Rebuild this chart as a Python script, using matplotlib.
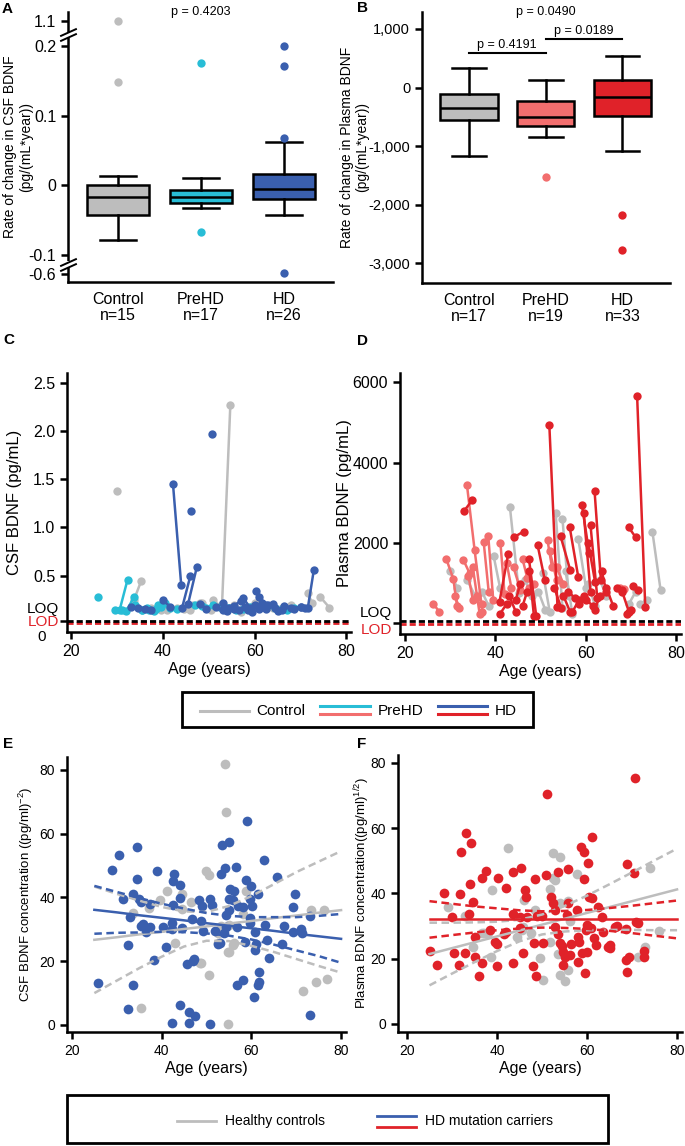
import matplotlib
matplotlib.use('Agg')
import matplotlib.pyplot as plt
import numpy as np
from matplotlib.patches import Rectangle
import matplotlib.transforms as mtransforms

plt.rcParams['font.family'] = ['Liberation Sans', 'DejaVu Sans']
plt.rcParams['axes.unicode_minus'] = False
plt.rcParams['axes.linewidth'] = 1.8

W, H = 685, 1146

GRAY = '#bdbdbd'
CYAN = '#28bdd6'
BLUE = '#3a5fae'
SALMON = '#f26e6e'
RED = '#e02229'

# ---- panel A / B : rate of change boxes ----
groups = ['Control', 'PreHD', 'HD']

csf_n = [15, 17, 26]
csf_q1 = [-0.043, -0.026, -0.019]
csf_med = [-0.017, -0.017, -0.006]
csf_q3 = [0.0, -0.007, 0.016]
csf_whislo = [-0.078, -0.033, -0.043]
csf_whishi = [0.013, 0.011, 0.062]
csf_fliers = [[0.149, 1.1], [0.175, -0.067], [0.068, 0.171, 0.2, -0.578]]
csf_ticks = [-0.6, -0.1, 0, 0.1, 0.2, 1.1]
csf_ticklabels = ['-0.6', '-0.1', '0', '0.1', '0.2', '1.1']
csf_breaks = [0.6, -0.35]

plasma_n = [17, 19, 33]
plasma_q1 = [-558, -650, -479]
plasma_med = [-342, -507, -154]
plasma_q3 = [-114, -234, 131]
plasma_whislo = [-1168, -843, -1083]
plasma_whishi = [336, 125, 541]
plasma_fliers = [[], [-1527], [-2177, -2769]]
plasma_ticks = [-3000, -2000, -1000, 0, 1000]
plasma_brackets = [(1, 2, 590, 'p = 0.4191'), (2, 3, 830, 'p = 0.0189')]

# ---- panel C : CSF BDNF per subject (ages, values) ----
csf_control = [
    ([29.9], [1.38]), ([33.7, 35.3], [0.25, 0.45]), ([52.9, 54.7], [0.21, 2.27]),
    ([71.6, 72.5], [0.32, 0.22]), ([74.3, 76.3], [0.28, 0.17]), ([41.0, 43.0], [0.14, 0.17]),
    ([44.5, 46.5], [0.16, 0.20]), ([48.5, 50.5], [0.22, 0.15]), ([51.0, 52.5], [0.25, 0.18]),
    ([55.5, 57.0], [0.20, 0.12]), ([58.5, 60.0], [0.18, 0.22]), ([62.0, 64.0], [0.20, 0.17]),
    ([66.0, 68.0], [0.17, 0.20]), ([37.5, 39.5], [0.17, 0.15]), ([46.0, 48.0], [0.15, 0.22]),
]
csf_prehd = [
    ([25.8], [0.28]), ([30.6, 32.3], [0.15, 0.46]), ([32.0, 33.7], [0.13, 0.28]),
    ([29.5, 31.0], [0.14, 0.15]), ([34.0, 35.5], [0.20, 0.15]), ([36.5, 38.5], [0.17, 0.16]),
    ([39.0, 40.5], [0.20, 0.22]), ([41.5, 43.0], [0.17, 0.16]), ([38.0, 39.5], [0.13, 0.18]),
    ([47.0, 48.5], [0.20, 0.19]), ([49.5, 51.0], [0.17, 0.20]), ([52.5, 54.0], [0.18, 0.17]),
    ([54.5, 56.0], [0.17, 0.15]), ([57.5, 59.0], [0.16, 0.18]), ([64.5, 66.0], [0.17, 0.16]),
    ([67.0, 68.5], [0.15, 0.17]), ([35.5, 37.0], [0.14, 0.15]),
]
csf_hd = [
    ([42.2, 44.0], [1.45, 0.40]), ([46.1], [1.17]), ([50.7], [1.97]),
    ([44.2, 46.0], [0.17, 0.50]), ([45.5, 47.4], [0.21, 0.59]), ([71.6, 72.9], [0.17, 0.56]),
    ([60.3, 61.5], [0.34, 0.22]), ([33.0, 34.5], [0.18, 0.17]), ([40.0, 41.5], [0.25, 0.18]),
    ([48.0, 49.5], [0.21, 0.16]), ([51.5, 53.0], [0.18, 0.15]), ([54.0, 55.5], [0.13, 0.16]),
    ([55.5, 57.0], [0.19, 0.24]), ([57.5, 59.0], [0.27, 0.17]), ([58.5, 60.0], [0.15, 0.20]),
    ([61.0, 62.5], [0.28, 0.20]), ([62.5, 64.0], [0.16, 0.21]), ([64.5, 66.0], [0.17, 0.15]),
    ([66.5, 68.0], [0.19, 0.17]), ([68.5, 70.0], [0.16, 0.18]), ([70.0, 71.0], [0.18, 0.17]),
    ([56.5, 58.0], [0.14, 0.18]), ([59.5, 61.0], [0.12, 0.16]), ([63.0, 65.0], [0.20, 0.13]),
    ([36.0, 37.5], [0.16, 0.15]), ([53.0, 54.5], [0.22, 0.17]),
]
csf_loq, csf_lod = 0.155, 0.03

# ---- panel D : plasma BDNF per subject ----
plasma_control = [
    ([30.0, 31.5], [1300, 900]), ([33.7, 35.5], [1100, 700]), ([37.0, 38.5], [800, 450]),
    ([39.6, 41.0], [1680, 900]), ([43.2, 45.2], [2890, 760]), ([46.5, 48.0], [1100, 700]),
    ([49.5, 51.0], [800, 350]), ([50.5, 52.0], [1250, 300]), ([53.3, 54.8], [2750, 400]),
    ([54.8, 56.2], [2610, 700]), ([55.5, 57.0], [1300, 250]), ([58.3, 60.0], [2110, 900]),
    ([60.5, 62.0], [1000, 450]), ([63.0, 64.5], [1100, 700]), ([69.5, 71.0], [500, 800]),
    ([72.0, 73.5], [500, 600]), ([74.7, 76.5], [2270, 830]),
]
plasma_prehd = [
    ([26.2, 27.6], [505, 300]), ([29.1, 30.7, 31.5], [1620, 1110, 450]), ([32.9, 34.3], [1590, 1250]),
    ([33.7, 35.4, 37.1], [3440, 1820, 306]), ([34.0, 35.0], [1200, 600]), ([35.0, 36.5], [1400, 250]),
    ([37.4, 38.5], [2020, 800]), ([38.4, 39.5], [2190, 600]), ([41.1, 42.0], [2000, 750]),
    ([44.0, 45.5], [1400, 850]), ([46.0, 47.0], [1600, 1150]), ([51.5, 52.5], [2070, 1400]),
    ([52.0, 53.5], [1800, 1100]), ([36.0, 37.0], [700, 500]), ([47.5, 48.5], [900, 1000]),
    ([53.5, 55.0], [1400, 1000]), ([67.5, 68.5], [880, 860]), ([31.0, 32.0], [700, 400]),
    ([42.5, 43.5], [1500, 900]),
]
plasma_hd = [
    ([33.0, 34.8], [2790, 3060]), ([40.9, 42.8], [555, 1730]), ([41.0, 42.5], [250, 500]),
    ([43.0, 44.5], [700, 300]), ([44.1, 46.2], [2150, 2290]), ([44.5, 45.5], [600, 1000]),
    ([46.0, 47.0], [450, 800]), ([47.4, 49.0], [1615, 200]), ([47.5, 48.5], [1300, 200]),
    ([49.3, 50.9], [1960, 1090]), ([51.9, 53.7], [4935, 430]), ([53.0, 54.5], [900, 400]),
    ([54.4, 56.5], [2170, 1340]), ([56.4, 58.3], [2400, 1160]), ([55.0, 56.5], [700, 300]),
    ([57.0, 58.5], [300, 600]), ([59.1, 60.7], [2960, 1755]), ([59.5, 61.0], [2750, 800]),
    ([60.5, 62.0], [2010, 1050]), ([61.9, 63.3], [3290, 1090]), ([61.0, 62.5], [2450, 650]),
    ([60.0, 61.5], [600, 450]), ([62.0, 63.0], [350, 700]), ([63.5, 64.5], [1300, 800]),
    ([64.5, 66.0], [900, 450]), ([58.5, 59.5], [500, 700]), ([66.9, 68.0], [890, 850]),
    ([69.4, 71.0], [2400, 2145]), ([71.3, 73.1], [5655, 430]), ([70.5, 71.5], [950, 850]),
    ([68.0, 69.5], [800, 300]), ([69.0, 70.0], [250, 350]), ([56.0, 57.5], [800, 650]),
]
plasma_loq, plasma_lod = 270, 30

# ---- panel E / F : transformed concentration vs age ----
e_control_pts = np.array([
    (54.2, 81.7), (54.4, 66.8), (49.9, 48.2), (50.5, 47.1), (41.3, 41.9), (39.6, 39.3),
    (44.6, 41.1), (46.5, 38.7), (44.6, 36.3), (33.6, 35.1), (37.2, 36.6), (43.0, 25.7),
    (53.3, 30.9), (55.1, 31.4), (52.5, 28.8), (54.7, 23.0), (55.9, 25.1), (56.2, 25.7),
    (58.1, 34.9), (58.8, 41.9), (76.2, 36.1), (48.5, 19.4), (48.8, 19.4), (50.5, 15.7),
    (52.5, 25.6), (55.0, 23.0), (74.4, 13.6), (71.6, 10.5), (35.3, 5.2), (73.3, 36.1),
    (54.8, 0.3), (76.8, 14.5)]).T
e_hd_pts = np.array([
    (29.0, 48.7), (30.5, 53.2), (34.6, 55.7), (34.4, 45.9), (31.3, 39.6), (33.6, 41.1),
    (35.0, 39.6), (35.5, 38.7), (37.3, 38.0), (32.9, 33.7), (35.9, 31.6), (35.5, 31.1),
    (37.3, 30.7), (40.2, 30.7), (42.2, 32.1), (42.4, 30.1), (42.5, 37.7), (44.0, 39.8),
    (44.2, 44.0), (42.5, 45.0), (42.7, 47.3), (39.0, 48.2), (32.4, 25.1), (40.9, 24.6),
    (38.2, 20.4), (46.7, 33.2), (48.4, 39.1), (49.0, 37.4), (50.8, 39.5), (51.3, 37.5),
    (48.8, 32.5), (49.2, 29.6), (51.8, 29.6), (52.9, 25.7), (52.5, 25.5), (53.3, 47.3),
    (53.5, 56.5), (55.1, 57.4), (54.2, 49.1), (56.6, 49.5), (55.3, 42.6), (56.2, 41.9),
    (55.0, 39.5), (55.9, 39.3), (55.0, 36.1), (54.4, 34.6), (57.0, 37.2), (58.1, 36.9),
    (59.0, 63.9), (58.7, 45.3), (59.9, 43.7), (59.6, 39.5), (60.2, 37.2), (61.4, 41.1),
    (62.8, 51.8), (59.7, 33.5), (59.7, 32.1), (56.8, 30.7), (60.9, 29.0), (63.0, 31.4),
    (58.5, 25.9), (61.0, 25.5), (63.4, 26.7), (63.9, 20.9), (65.7, 46.4), (67.2, 31.1),
    (69.2, 37.0), (69.8, 41.1), (66.8, 25.5), (69.2, 29.0), (71.0, 30.1), (71.4, 28.8),
    (73.0, 34.2), (60.9, 23.6), (25.9, 13.1), (33.6, 12.6), (45.6, 19.1), (47.0, 20.1),
    (47.3, 20.6), (56.9, 12.6), (58.2, 14.1), (61.8, 16.7), (61.8, 13.6), (61.4, 12.6),
    (60.5, 8.9), (32.4, 4.9), (44.0, 6.3), (46.0, 4.0), (47.5, 2.9), (73.0, 3.1),
    (42.2, 0.5), (46.1, 0.7), (50.8, 0.3), (54.4, 30.8), (53.8, 28.9), (36.5, 29.0),
    (44.5, 30.5)]).T

f_control_pts = np.array([
    (42.5, 53.8), (52.5, 52.3), (54.1, 51.0), (52.9, 44.1), (52.5, 44.6), (51.8, 41.2),
    (57.7, 45.8), (74.0, 47.7), (38.8, 41.0), (29.0, 35.9), (32.9, 33.1), (48.4, 34.9),
    (54.0, 37.0), (55.8, 37.5), (45.8, 29.8), (44.4, 26.7), (38.1, 27.8), (36.6, 27.8),
    (34.7, 23.7), (45.5, 28.8), (51.8, 25.2), (49.6, 20.1), (53.6, 21.4), (71.3, 20.6),
    (72.9, 23.7), (76.1, 28.6), (56.2, 31.5), (46.1, 38.0), (47.6, 27.8), (50.3, 13.5),
    (53.9, 15.0), (55.1, 13.0), (55.8, 16.5), (38.7, 20.6), (37.0, 27.8)]).T
f_hd_pts = np.array([
    (70.7, 75.2), (51.2, 70.3), (33.1, 58.6), (34.2, 55.3), (32.1, 52.8), (61.1, 57.4),
    (58.6, 54.3), (59.3, 52.6), (60.3, 49.4), (68.8, 49.0), (70.5, 46.3), (59.4, 44.3),
    (55.7, 47.4), (53.6, 46.5), (50.9, 45.6), (45.3, 47.9), (43.5, 46.4), (40.3, 44.6),
    (37.6, 46.7), (36.6, 44.6), (34.0, 42.8), (31.8, 39.8), (28.3, 40.0), (34.7, 37.2),
    (46.2, 41.0), (46.4, 39.0), (42.0, 41.5), (48.4, 44.3), (51.9, 39.0), (52.5, 37.0),
    (55.8, 37.0), (55.6, 33.4), (52.9, 34.9), (57.7, 34.9), (61.0, 38.5), (60.5, 39.0),
    (62.5, 35.9), (63.3, 32.9), (60.1, 30.3), (60.8, 29.3), (59.8, 28.8), (70.9, 31.3),
    (71.3, 30.8), (66.6, 30.0), (66.2, 29.6), (68.7, 29.0), (63.5, 28.0), (45.0, 32.7),
    (43.5, 33.6), (46.7, 32.6), (48.8, 33.1), (49.9, 33.1), (52.9, 29.8), (53.6, 27.5),
    (53.9, 24.7), (54.4, 23.9), (55.1, 21.1), (54.6, 22.0), (56.2, 21.1), (56.4, 24.4),
    (58.1, 26.7), (58.3, 25.2), (58.8, 21.6), (59.9, 21.9), (61.6, 26.2), (62.1, 24.2),
    (65.0, 23.2), (65.1, 24.2), (48.3, 24.9), (50.3, 24.9), (45.7, 21.6), (45.1, 29.3),
    (41.6, 27.6), (42.0, 28.3), (39.9, 24.5), (39.6, 25.2), (38.4, 28.8), (35.0, 26.7),
    (33.8, 33.7), (29.9, 32.9), (25.1, 22.4), (26.7, 18.1), (30.5, 21.6), (32.9, 21.6),
    (36.6, 18.6), (31.6, 18.1), (36.0, 14.7), (40.1, 17.8), (43.5, 18.6), (47.9, 17.6),
    (48.7, 14.7), (55.1, 20.6), (54.6, 18.1), (58.1, 19.1), (59.6, 15.7), (68.7, 19.6),
    (68.8, 16.0), (69.4, 20.6), (72.7, 22.2), (72.7, 20.4), (64.7, 23.7), (35.0, 20.4)]).T

fit_age = [25, 30, 35, 40, 45, 50, 55, 60, 65, 70, 75, 80]
e_control_fit = [26.7, 27.5, 28.4, 29.2, 30.1, 30.9, 31.8, 32.6, 33.5, 34.3, 35.2, 36.0]
e_control_upper = [43.4, 41.1, 39.0, 37.0, 35.6, 35.4, 37.3, 40.4, 44.1, 47.9, 51.2, 54.5]
e_control_lower = [10.0, 13.9, 17.8, 21.4, 24.6, 26.4, 26.3, 24.8, 22.9, 20.7, 18.5, 16.4]
e_hd_fit = [36.1, 35.3, 34.4, 33.6, 32.8, 31.9, 31.1, 30.3, 29.5, 28.6, 27.8, 27.0]
e_hd_upper = [43.6, 41.7, 39.8, 38.0, 36.5, 35.1, 34.2, 33.8, 33.8, 33.8, 34.2, 34.8]
e_hd_lower = [28.6, 28.9, 29.0, 29.2, 29.1, 28.7, 28.0, 26.8, 25.2, 23.4, 21.6, 19.5]

f_control_fit = [21.4, 23.2, 25.0, 26.8, 28.6, 30.4, 32.2, 34.0, 35.8, 37.6, 39.4, 41.2]
f_control_upper = [31.0, 31.0, 31.1, 31.3, 31.9, 33.5, 36.1, 39.3, 42.8, 46.4, 50.1, 53.7]
f_control_lower = [11.8, 15.4, 18.9, 22.3, 25.3, 27.4, 28.3, 28.7, 28.8, 28.8, 28.7, 28.7]
f_hd_fit = [32.0] * 12
f_hd_upper = [37.6, 36.8, 36.0, 35.4, 34.8, 34.5, 34.6, 34.9, 35.5, 36.2, 37.0, 37.8]
f_hd_lower = [26.4, 27.2, 28.0, 28.7, 29.2, 29.5, 29.4, 29.1, 28.5, 27.8, 27.0, 26.2]

fig = plt.figure(figsize=(W / 100, H / 100), dpi=100)


def new_axes(left, top, right, bottom):
    # place an axes with pixel edges of the 685x1146 canvas
    ax = fig.add_axes([left / W, 1 - bottom / H, (right - left) / W, (bottom - top) / H])
    ax.spines['top'].set_visible(False)
    ax.spines['right'].set_visible(False)
    ax.tick_params(width=1.8, length=5, color='black')
    return ax


def draw_boxes(ax, q1, med, q3, lo, hi, fliers, colors, ns, ysize):
    stats = [dict(q1=a, med=b, q3=c, whislo=d, whishi=e, fliers=f)
             for a, b, c, d, e, f in zip(q1, med, q3, lo, hi, fliers)]
    art = ax.bxp(stats, positions=[1, 2, 3], widths=0.75, capwidths=0.44, patch_artist=True,
                 boxprops=dict(linewidth=1.8, edgecolor='black'),
                 medianprops=dict(color='black', linewidth=1.8),
                 whiskerprops=dict(linewidth=1.8, color='black'),
                 capprops=dict(linewidth=1.8, color='black'),
                 flierprops=dict(marker='o', markersize=6, markeredgewidth=0, linestyle='none'))
    for box, fl, c in zip(art['boxes'], art['fliers'], colors):
        box.set_facecolor(c)
        fl.set_markerfacecolor(c)
    ax.set_xticks([1, 2, 3])
    ax.set_xticklabels([f'{g}\nn={n}' for g, n in zip(groups, ns)], fontsize=11.5, linespacing=1.1)
    ax.tick_params(axis='x', length=0, pad=7)
    ax.tick_params(axis='y', labelsize=ysize)


# ---------------- A ----------------
def csf_fwd(v):
    v = np.asarray(v, float)
    return np.where(v > 0.2, 0.2 + (v - 0.2) * 0.04, np.where(v < -0.1, -0.1 + (v + 0.1) * 0.054, v))


def csf_inv(t):
    t = np.asarray(t, float)
    return np.where(t > 0.2, 0.2 + (t - 0.2) / 0.04, np.where(t < -0.1, -0.1 + (t + 0.1) / 0.054, t))


ax_a = new_axes(68, 12, 333, 282)
ax_a.set_yscale('function', functions=(csf_fwd, csf_inv))
draw_boxes(ax_a, csf_q1, csf_med, csf_q3, csf_whislo, csf_whishi, csf_fliers, [GRAY, CYAN, BLUE], csf_n, 11.5)
ax_a.set_ylim(-0.82, 1.42)
ax_a.set_xlim(0.4, 3.59)
ax_a.set_yticks(csf_ticks)
ax_a.set_yticklabels(csf_ticklabels)
ax_a.minorticks_off()
ax_a.set_ylabel('Rate of change in CSF BDNF\n(pg/(mL*year))', fontsize=10, linespacing=1.15)
ax_a.yaxis.set_label_coords(-0.132, 0.5)
ax_a.text(2, 1.0, 'p = 0.4203', transform=ax_a.get_xaxis_transform(), ha='center', va='center', fontsize=9)
blend = ax_a.get_yaxis_transform()
for v in csf_breaks:
    ax_a.plot([0], [v], marker='s', ms=5, color='white', mew=0, transform=blend, clip_on=False, zorder=5)
    for dy in (-2.5, 2.5):
        tr = mtransforms.offset_copy(blend, fig=fig, x=0, y=dy, units='dots')
        ax_a.plot([0], [v], marker=[(-1, -0.45), (1, 0.45)], ms=12, mew=1.4, color='black',
                  transform=tr, clip_on=False, zorder=6)

# ---------------- B ----------------
ax_b = new_axes(422, 12, 670, 283)
draw_boxes(ax_b, plasma_q1, plasma_med, plasma_q3, plasma_whislo, plasma_whishi, plasma_fliers,
           [GRAY, SALMON, RED], plasma_n, 10.5)
ax_b.set_ylim(-3340, 1290)
ax_b.set_xlim(0.39, 3.62)
ax_b.set_yticks(plasma_ticks)
ax_b.set_yticklabels([f'{v:,}' for v in plasma_ticks])
ax_b.set_ylabel('Rate of change in Plasma BDNF\n(pg/(mL*year))', fontsize=10, linespacing=1.15)
ax_b.yaxis.set_label_coords(-0.212, 0.5)
for x0, x1, y, label in plasma_brackets:
    ax_b.plot([x0, x1], [y, y], color='black', lw=1.5)
    ax_b.text((x0 + x1) / 2, y + 40, label, ha='center', va='bottom', fontsize=9)
ax_b.text(2, 1.0, 'p = 0.0490', transform=ax_b.get_xaxis_transform(), ha='center', va='center', fontsize=9)


# ---------------- C / D ----------------
def spaghetti(ax, sets):
    for subjects, color in sets:
        for ages, vals in subjects:
            ax.plot(ages, vals, '-o', color=color, lw=1.8, ms=6, mew=0)


ax_c = new_axes(67, 373, 351, 632)
spaghetti(ax_c, [(csf_control, GRAY), (csf_prehd, CYAN), (csf_hd, BLUE)])
ax_c.axhline(csf_lod - 0.017, color=RED, lw=2, dashes=(2.2, 1.1))
ax_c.axhline(csf_lod + 0.005, color='black', lw=2, dashes=(2.2, 1.1))
ax_c.set_xlim(19.1, 81)
ax_c.set_ylim(-0.083, 2.6)
ax_c.set_xticks([20, 40, 60, 80])
ax_c.set_yticks([csf_lod, 0.5, 1.0, 1.5, 2.0, 2.5])
ax_c.set_yticklabels(['', '0.5', '1.0', '1.5', '2.0', '2.5'])
ax_c.tick_params(labelsize=11.5)
ax_c.set_xlabel('Age (years)', fontsize=11.5, labelpad=2)
ax_c.set_ylabel('CSF BDNF (pg/mL)', fontsize=12)
ax_c.yaxis.set_label_coords(-0.16, 0.5)
yt = ax_c.get_yaxis_transform()
ax_c.text(-0.028, csf_loq, 'LOQ', transform=yt, ha='right', va='center', fontsize=11)
ax_c.text(-0.028, csf_lod - 0.006, 'LOD', transform=yt, ha='right', va='center', fontsize=11, color=RED)
ax_c.text(-0.088, -0.13, '0', transform=yt, ha='center', va='center', fontsize=11)

ax_d = new_axes(400, 373, 681, 634)
spaghetti(ax_d, [(plasma_control, GRAY), (plasma_prehd, SALMON), (plasma_hd, RED)])
ax_d.axhline(plasma_lod - 30, color=RED, lw=2, dashes=(2.2, 1.1))
ax_d.axhline(plasma_lod + 30, color='black', lw=2, dashes=(2.2, 1.1))
ax_d.set_xlim(18.9, 81)
ax_d.set_ylim(-250, 6220)
ax_d.set_xticks([20, 40, 60, 80])
ax_d.set_yticks([plasma_lod, 2000, 4000, 6000])
ax_d.set_yticklabels(['', '2000', '4000', '6000'])
ax_d.tick_params(labelsize=11.5)
ax_d.set_xlabel('Age (years)', fontsize=11.5, labelpad=2)
ax_d.set_ylabel('Plasma BDNF (pg/mL)', fontsize=12)
ax_d.yaxis.set_label_coords(-0.17, 0.5)
yt = ax_d.get_yaxis_transform()
ax_d.text(-0.028, plasma_loq, 'LOQ', transform=yt, ha='right', va='center', fontsize=11)
ax_d.text(-0.028, -150, 'LOD', transform=yt, ha='right', va='center', fontsize=11, color=RED)


# ---------------- E / F ----------------
def scatter_fit(ax, ctrl_pts, hd_pts, hd_color, lines):
    ax.plot(ctrl_pts[0], ctrl_pts[1], 'o', color=GRAY, ms=7, mew=0)
    ax.plot(hd_pts[0], hd_pts[1], 'o', color=hd_color, ms=7, mew=0)
    for fit, up, low, color in lines:
        ax.plot(fit_age, fit, color=color, lw=1.8)
        ax.plot(fit_age, up, color=color, lw=1.8, dashes=(3, 1.8))
        ax.plot(fit_age, low, color=color, lw=1.8, dashes=(3, 1.8))
    ax.set_xticks([20, 40, 60, 80])
    ax.set_yticks([0, 20, 40, 60, 80])
    ax.tick_params(labelsize=10)
    ax.set_xlabel('Age (years)', fontsize=11.5, labelpad=2)


ax_e = new_axes(67, 757, 346, 1032)
scatter_fit(ax_e, e_control_pts, e_hd_pts, BLUE,
            [(e_control_fit, e_control_upper, e_control_lower, GRAY),
             (e_hd_fit, e_hd_upper, e_hd_lower, BLUE)])
ax_e.set_xlim(18.9, 81.1)
ax_e.set_ylim(-2.2, 84)
ax_e.set_ylabel(r'CSF BDNF concentration ((pg/ml)$^{\mathregular{-2}}$)', fontsize=9.5)
ax_e.yaxis.set_label_coords(-0.115, 0.5)

ax_f = new_axes(398, 755, 682, 1032)
scatter_fit(ax_f, f_control_pts, f_hd_pts, RED,
            [(f_control_fit, f_control_upper, f_control_lower, GRAY),
             (f_hd_fit, f_hd_upper, f_hd_lower, RED)])
ax_f.set_xlim(18.0, 81.1)
ax_f.set_ylim(-2.5, 82.4)
ax_f.set_ylabel(r'Plasma BDNF concentration((pg/ml)$^{\mathregular{1/2}}$)', fontsize=9.5)
ax_f.yaxis.set_label_coords(-0.092, 0.5)

# ---------------- overlay: panel letters and legends ----------------
ov = fig.add_axes([0, 0, 1, 1])
ov.set_xlim(0, W)
ov.set_ylim(H, 0)
ov.axis('off')
for letter, x, y in [('A', 2, 9), ('B', 357, 8), ('C', 3, 340), ('D', 357, 341), ('E', 3, 744), ('F', 357, 744)]:
    ov.text(x, y, letter, fontsize=11, fontweight='bold', ha='left', va='center')

ov.add_patch(Rectangle((182, 692), 351, 35, fill=False, lw=2, ec='black'))
ov.plot([200, 249], [711, 711], color=GRAY, lw=2.2)
ov.text(256, 711, 'Control', fontsize=11, va='center')
ov.plot([320, 370], [706, 706], color=CYAN, lw=2.2)
ov.plot([320, 370], [714, 714], color=SALMON, lw=2.2)
ov.text(378, 711, 'PreHD', fontsize=11, va='center')
ov.plot([438, 487], [706, 706], color=BLUE, lw=2.2)
ov.plot([438, 487], [714, 714], color=RED, lw=2.2)
ov.text(495, 711, 'HD', fontsize=11, va='center')

ov.add_patch(Rectangle((67, 1095), 541, 48, fill=False, lw=2, ec='black'))
ov.plot([177, 216], [1121, 1121], color=GRAY, lw=2)
ov.text(225, 1121, 'Healthy controls', fontsize=10, va='center')
ov.plot([377, 416], [1116, 1116], color=BLUE, lw=2)
ov.plot([377, 416], [1127, 1127], color=RED, lw=2)
ov.text(425, 1121, 'HD mutation carriers', fontsize=10, va='center')

fig.savefig('out.png', dpi=100)
